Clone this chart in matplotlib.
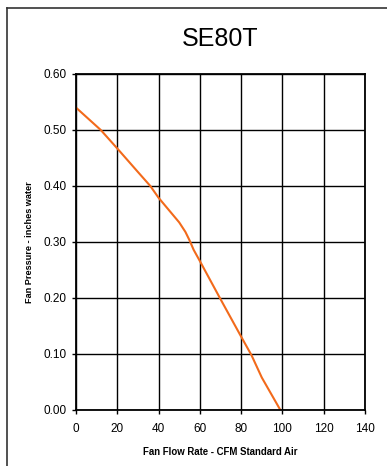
import matplotlib
matplotlib.use('Agg')
from matplotlib import pyplot as plt
from matplotlib.lines import Line2D

plt.rcParams['font.family'] = ['Liberation Sans', 'DejaVu Sans']

flow = [0, 12, 20, 30, 36, 40, 45, 50, 53, 55, 57, 60, 70, 80, 85, 90, 99]
pressure = [0.54, 0.50, 0.467, 0.425, 0.40, 0.379, 0.357, 0.335, 0.318, 0.303, 0.286, 0.266, 0.198, 0.131, 0.098, 0.058, 0.0]

x_ticks = [0, 20, 40, 60, 80, 100, 120, 140]
y_ticks = [0.0, 0.1, 0.2, 0.3, 0.4, 0.5, 0.6]

W, H = 387, 466
fig = plt.figure(figsize=(W / 100, H / 100), dpi=100)
ax = fig.add_axes([76 / W, 1 - 410 / H, (365 - 76) / W, (410 - 74) / H])

ax.plot(flow, pressure, c='#f26a1b', lw=1.5, solid_joinstyle='round')

ax.set_xlim(0, 140)
ax.set_ylim(0, 0.6)
ax.set_xticks(x_ticks)
ax.set_yticks(y_ticks)
ax.set_yticklabels(['%.2f' % v for v in y_ticks])
ax.grid(True, color='black', lw=1.0)
for s in ax.spines.values():
    s.set_linewidth(1.3)
ax.tick_params(axis='both', which='major', labelsize=8.5, length=3, width=1, direction='out')
ax.tick_params(axis='x', pad=6)

ax.set_xlabel('Fan Flow Rate - CFM Standard Air', fontsize=6.9, fontweight='bold', labelpad=9)
ax.set_ylabel('Fan Pressure - inches water', fontsize=6.6, fontweight='bold', labelpad=7)

fig.text(220 / W, 1 - 39 / H, 'SE80T', fontsize=18, ha='center', va='center')

# figure border (left and top only)
fig.add_artist(Line2D([6.5 / W, 6.5 / W], [0, 1 - 7.5 / H], transform=fig.transFigure, color='#333333', lw=1.2))
fig.add_artist(Line2D([6.5 / W, 1], [1 - 7.5 / H, 1 - 7.5 / H], transform=fig.transFigure, color='#333333', lw=1.2))

fig.savefig('out.png', dpi=100)
